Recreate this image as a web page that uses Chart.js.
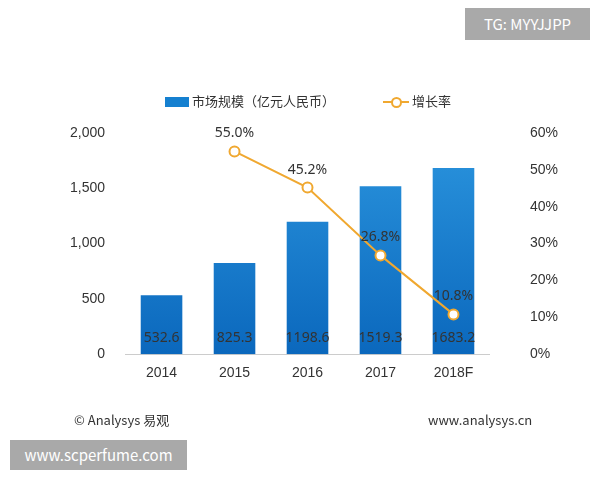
<!DOCTYPE html>
<html><head><meta charset="utf-8">
<script src="https://cdn.jsdelivr.net/npm/chart.js@4/dist/chart.umd.min.js"></script>
<style>
body{margin:0;background:#fff;font-family:"Noto Sans CJK SC","Noto Sans",sans-serif;}
#wrap{position:relative;width:600px;height:480px;}
canvas{position:absolute;left:0;top:0;}
.tag{position:absolute;background:#a9a9a9;color:#fff;font-size:15px;}
.foot{position:absolute;top:410px;font-size:13px;color:#333;}
.leg{position:absolute;top:91px;font-size:13px;color:#333;}
</style></head><body>
<div id="wrap">
<canvas id="c" width="600" height="480"></canvas>
<div class="tag" style="left:465px;top:8px;width:125px;height:32px;line-height:32px;text-align:center;">TG: MYYJJPP</div>
<div class="tag" style="left:10px;top:440px;width:177px;height:30px;line-height:30px;text-align:center;">www.scperfume.com</div>
<div class="foot" style="left:74px;">© Analysys 易观</div>
<div class="foot" style="left:428px;">www.analysys.cn</div>
<div class="leg" style="left:165px;"><span style="display:inline-block;width:24px;height:10px;background:#1580d0;vertical-align:middle;margin-right:3px"></span>市场规模（亿元人民币）</div>
<div class="leg" style="left:383px;"><span style="display:inline-block;position:relative;width:26px;height:10px;vertical-align:middle;margin-right:3px"><span style="position:absolute;left:0;top:4px;width:26px;height:2px;background:#f0a830"></span><span style="position:absolute;left:8px;top:0;width:7px;height:7px;border:2px solid #f0a830;border-radius:50%;background:#fff"></span></span>增长率</div>
</div>
<script>
const categories = ['2014', '2015', '2016', '2017', '2018F'];
const marketSize = [532.6, 825.3, 1198.6, 1519.3, 1683.2];
const growthRate = [null, 55.0, 45.2, 26.8, 10.8];

const labelPlugin = {
  id: 'labels',
  afterDatasetsDraw(chart) {
    const ctx = chart.ctx;
    ctx.save();
    ctx.font = '14px "Noto Sans", sans-serif';
    ctx.fillStyle = '#333';
    ctx.textAlign = 'center';
    chart.getDatasetMeta(0).data.forEach((b, i) => {
      ctx.fillText(marketSize[i].toFixed(1), b.x, chart.scales.y.bottom - 12);
    });
    chart.getDatasetMeta(1).data.forEach((p, i) => {
      if (growthRate[i] == null) return;
      ctx.fillText(growthRate[i].toFixed(1) + '%', p.x, p.y - 14);
    });
    ctx.restore();
  }
};

const ctx = document.getElementById('c').getContext('2d');
const grad = ctx.createLinearGradient(0, 133, 0, 353);
grad.addColorStop(0, '#2b95de');
grad.addColorStop(1, '#0b68bd');

new Chart(ctx, {
  type: 'bar',
  data: {
    labels: categories,
    datasets: [
      { type: 'bar', data: marketSize, backgroundColor: grad, yAxisID: 'y',
        categoryPercentage: 0.57, barPercentage: 1, order: 2 },
      { type: 'line', data: growthRate, yAxisID: 'y1', borderColor: '#f0a830', borderWidth: 2,
        pointBackgroundColor: '#fff', pointBorderColor: '#f0a830', pointBorderWidth: 2,
        pointRadius: 5, order: 1 }
    ]
  },
  options: {
    responsive: false,
    animation: false,
    layout: { padding: { top: 133, bottom: 95, left: 58, right: 10 } },
    plugins: { legend: { display: false }, tooltip: { enabled: false } },
    scales: {
      x: { grid: { display: false }, border: { color: '#ccc' },
        ticks: { color: '#333', font: { size: 14 } } },
      y: { min: 0, max: 2000, ticks: { stepSize: 500, color: '#333', font: { size: 14 }, padding: 12 },
        grid: { display: false }, border: { display: false } },
      y1: { position: 'right', min: 0, max: 60,
        ticks: { stepSize: 10, color: '#333', font: { size: 14 }, callback: v => v + '%', padding: 32 },
        grid: { display: false }, border: { display: false } }
    }
  },
  plugins: [labelPlugin]
});
</script>
</body></html>
